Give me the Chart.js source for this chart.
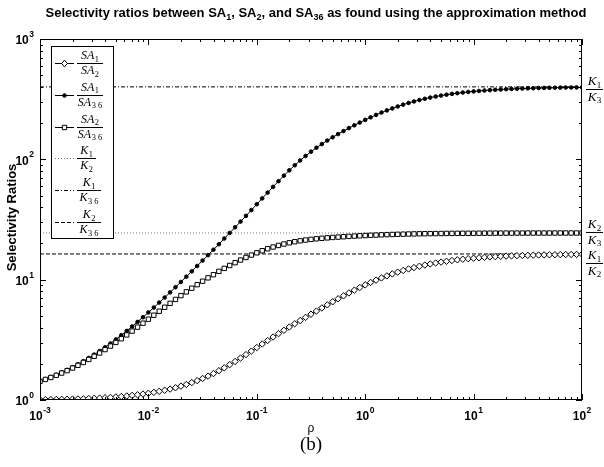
<!DOCTYPE html>
<html>
<head>
<meta charset="utf-8">
<script src="https://cdn.jsdelivr.net/npm/chart.js@4.4.0/dist/chart.umd.min.js"></script>
<style>
html, body { margin: 0; padding: 0; background: #fff; }
#wrap { position: relative; width: 604px; height: 467px; }
</style>
</head>
<body>
<div id="wrap"><canvas id="chart" width="604" height="467"></canvas></div>
<script>
"use strict";

// rho, log spaced, 20 points per decade
const rho = [
	0.001, 0.001122, 0.001259, 0.001413, 0.001585, 0.001778, 0.001995, 0.002239, 0.002512, 0.002818,
	0.003162, 0.003548, 0.003981, 0.004467, 0.005012, 0.005623, 0.00631, 0.007079, 0.007943, 0.008913,
	0.01, 0.01122, 0.01259, 0.01413, 0.01585, 0.01778, 0.01995, 0.02239, 0.02512, 0.02818,
	0.03162, 0.03548, 0.03981, 0.04467, 0.05012, 0.05623, 0.0631, 0.07079, 0.07943, 0.08913,
	0.1, 0.1122, 0.1259, 0.1413, 0.1585, 0.1778, 0.1995, 0.2239, 0.2512, 0.2818,
	0.3162, 0.3548, 0.3981, 0.4467, 0.5012, 0.5623, 0.631, 0.7079, 0.7943, 0.8913,
	1, 1.122, 1.259, 1.413, 1.585, 1.778, 1.995, 2.239, 2.512, 2.818,
	3.162, 3.548, 3.981, 4.467, 5.012, 5.623, 6.31, 7.079, 7.943, 8.913,
	10, 11.22, 12.59, 14.13, 15.85, 17.78, 19.95, 22.39, 25.12, 28.18,
	31.62, 35.48, 39.81, 44.67, 50.12, 56.23, 63.1, 70.79, 79.43, 89.13,
	100
];

const ratioSA1SA2 = [
	1.006, 1.007, 1.008, 1.010, 1.012, 1.014, 1.017, 1.020, 1.023, 1.028,
	1.032, 1.038, 1.044, 1.051, 1.060, 1.069, 1.080, 1.092, 1.105, 1.121,
	1.138, 1.158, 1.180, 1.205, 1.233, 1.264, 1.304, 1.346, 1.394, 1.448,
	1.509, 1.580, 1.659, 1.750, 1.851, 1.965, 2.091, 2.231, 2.384, 2.550,
	2.729, 2.920, 3.122, 3.337, 3.561, 3.796, 4.043, 4.303, 4.575, 4.861,
	5.164, 5.483, 5.820, 6.176, 6.547, 6.936, 7.340, 7.756, 8.181, 8.614,
	9.049, 9.482, 9.909, 10.34, 10.75, 11.16, 11.55, 11.92, 12.28, 12.61,
	12.93, 13.23, 13.50, 13.76, 14.00, 14.22, 14.43, 14.62, 14.79, 14.94,
	15.08, 15.21, 15.33, 15.44, 15.53, 15.62, 15.70, 15.77, 15.83, 15.89,
	15.94, 15.98, 16.02, 16.06, 16.09, 16.12, 16.15, 16.17, 16.19, 16.21,
	16.23
];

const ratioSA1SA36 = [
	1.438, 1.492, 1.552, 1.619, 1.695, 1.779, 1.874, 1.980, 2.100, 2.233,
	2.383, 2.551, 2.740, 2.951, 3.188, 3.453, 3.750, 4.083, 4.456, 4.874,
	5.341, 5.865, 6.451, 7.107, 7.837, 8.654, 9.568, 10.59, 11.73, 13.00,
	14.41, 15.99, 17.74, 19.69, 21.97, 24.45, 27.24, 30.37, 33.89, 37.87,
	42.32, 47.35, 52.91, 59.10, 65.84, 73.16, 81.03, 89.27, 97.87, 106.7,
	115.8, 124.8, 133.9, 143.2, 152.5, 162.1, 171.7, 181.7, 191.8, 202.1,
	212.7, 223.3, 234.0, 244.7, 255.1, 265.0, 275.1, 284.8, 294.0, 302.7,
	310.9, 318.6, 325.8, 332.5, 338.7, 344.5, 349.8, 354.6, 359.0, 363.1,
	366.8, 370.1, 373.1, 375.9, 378.4, 380.6, 382.6, 384.5, 386.1, 387.5,
	388.9, 390.0, 391.1, 392.0, 392.9, 393.7, 394.3, 395.0, 395.5, 396.0,
	396.4
];

const ratioSA2SA36 = [
	1.430, 1.482, 1.539, 1.603, 1.675, 1.754, 1.843, 1.942, 2.052, 2.173,
	2.309, 2.458, 2.624, 2.807, 3.009, 3.230, 3.474, 3.740, 4.031, 4.348,
	4.693, 5.065, 5.467, 5.899, 6.358, 6.848, 7.368, 7.917, 8.491, 9.089,
	9.709, 10.35, 11.00, 11.72, 12.41, 13.12, 13.84, 14.56, 15.29, 16.01,
	16.71, 17.40, 18.06, 18.68, 19.25, 19.78, 20.25, 20.67, 21.03, 21.35,
	21.62, 21.86, 22.07, 22.25, 22.43, 22.59, 22.74, 22.89, 23.02, 23.15,
	23.27, 23.38, 23.48, 23.58, 23.67, 23.75, 23.83, 23.89, 23.95, 24.00,
	24.05, 24.09, 24.13, 24.16, 24.19, 24.22, 24.24, 24.26, 24.28, 24.30,
	24.31, 24.33, 24.34, 24.35, 24.36, 24.37, 24.38, 24.38, 24.39, 24.39,
	24.40, 24.40, 24.41, 24.41, 24.41, 24.42, 24.42, 24.42, 24.42, 24.42,
	24.43
];

// constant ratios (horizontal lines)
const kDotted = 24.45;
const kDashDot = 400;
const kDashed = 16.36;

const xTickValues = [0.001, 0.01, 0.1, 1, 10, 100];
const xTickExponents = ['-3', '-2', '-1', '0', '1', '2'];
const yTickValues = [1, 10, 100, 1000];
const yTickExponents = ['0', '1', '2', '3'];

const titleParts = [
	['Selectivity ratios between SA', false], ['1', true],
	[', SA', false], ['2', true],
	[', and SA', false], ['36', true],
	[' as found using the approximation method', false]
];

function points(ys) {
	return rho.map(function(r, i) { return {x: r, y: ys[i]}; });
}

function flat(v) {
	return [{x: 0.001, y: v}, {x: 100, y: v}];
}

const SANS = "'Liberation Sans', Arial, sans-serif";
const SERIF = "'Liberation Serif', 'Times New Roman', serif";

function drawMarker(ctx, style, x, y) {
	ctx.save();
	ctx.lineWidth = 1;
	ctx.strokeStyle = '#000';
	ctx.beginPath();
	if (style === 'diamond') {
		ctx.moveTo(x, y - 3.4); ctx.lineTo(x + 2.8, y); ctx.lineTo(x, y + 3.4); ctx.lineTo(x - 2.8, y); ctx.closePath();
		ctx.fillStyle = '#fff';
	} else if (style === 'dot') {
		ctx.arc(x, y, 1.8, 0, Math.PI * 2);
		ctx.fillStyle = '#000';
	} else {
		ctx.rect(x - 2.2, y - 2.2, 4.4, 4.4);
		ctx.fillStyle = '#fff';
	}
	ctx.fill();
	ctx.stroke();
	ctx.restore();
}

function mathWidth(ctx, base, sub, size) {
	ctx.font = 'italic ' + size + 'px ' + SERIF;
	var w = ctx.measureText(base).width;
	ctx.font = (size * 0.7) + 'px ' + SERIF;
	return w + 0.5 + ctx.measureText(sub).width;
}

function drawMath(ctx, base, sub, cx, baseline, size) {
	var x = cx - mathWidth(ctx, base, sub, size) / 2;
	ctx.textAlign = 'left';
	ctx.textBaseline = 'alphabetic';
	ctx.font = 'italic ' + size + 'px ' + SERIF;
	ctx.fillText(base, x, baseline);
	x += ctx.measureText(base).width + 0.5;
	ctx.font = (size * 0.7) + 'px ' + SERIF;
	ctx.fillText(sub, x, baseline + size * 0.21);
}

function drawFrac(ctx, num, den, xl, xr, ybar, size) {
	var cx = (xl + xr) / 2;
	drawMath(ctx, num[0], num[1], cx, ybar - 4, size);
	ctx.beginPath();
	ctx.moveTo(xl, Math.round(ybar) + 0.5);
	ctx.lineTo(xr, Math.round(ybar) + 0.5);
	ctx.lineWidth = 1;
	ctx.strokeStyle = '#000';
	ctx.stroke();
	drawMath(ctx, den[0], den[1], cx, ybar + 2 + size * 0.75, size);
}

function drawPow10(ctx, e, x, y, align) {
	ctx.font = 'bold 12px ' + SANS;
	var wb = ctx.measureText('10').width;
	ctx.font = 'bold 8.5px ' + SANS;
	var we = ctx.measureText(e).width;
	var w = wb + we + 0.5;
	var x0 = align === 'right' ? x - w : x - w / 2;
	ctx.textAlign = 'left';
	ctx.textBaseline = 'middle';
	ctx.font = 'bold 12px ' + SANS;
	ctx.fillText('10', x0, y);
	ctx.font = 'bold 8.5px ' + SANS;
	ctx.fillText(e, x0 + wb + 0.5, y - 6.5);
}

const legendEntries = [
	{marker: 'diamond', dash: [], color: '#000', num: ['SA', '1'], den: ['SA', '2'], w: 26},
	{marker: 'dot', dash: [], color: '#000', num: ['SA', '1'], den: ['SA', '3 6'], w: 26},
	{marker: 'square', dash: [], color: '#000', num: ['SA', '2'], den: ['SA', '3 6'], w: 26},
	{marker: null, dash: [1, 2], color: '#777', num: ['K', '1'], den: ['K', '2'], w: 19},
	{marker: null, dash: [4, 2, 1, 2], color: '#000', num: ['K', '1'], den: ['K', '3 6'], w: 24},
	{marker: null, dash: [4, 2], color: '#000', num: ['K', '2'], den: ['K', '3 6'], w: 24}
];

const decorPlugin = {
	id: 'decor',
	beforeDraw: function(chart) {
		const ctx = chart.ctx;
		ctx.save();
		ctx.fillStyle = '#fff';
		ctx.fillRect(0, 0, chart.width, chart.height);
		ctx.restore();
	},
	afterDatasetsDraw: function(chart) {
		const ctx = chart.ctx;
		const a = chart.chartArea;
		const xs = chart.scales.x;
		const ys = chart.scales.y;
		ctx.save();
		ctx.fillStyle = '#000';
		ctx.strokeStyle = '#000';
		ctx.lineWidth = 1;

		// frame
		ctx.strokeRect(a.left + 0.5, a.top + 0.5, a.right - a.left - 1, a.bottom - a.top - 1);

		// inward ticks on all four sides
		ctx.beginPath();
		var d, m, v, p, len;
		for (d = -3; d <= 2; d++) {
			for (m = 1; m <= 9; m++) {
				v = m * Math.pow(10, d);
				if (v > 100.001) break;
				p = Math.round(xs.getPixelForValue(v)) + 0.5;
				len = m === 1 ? 6 : 3;
				ctx.moveTo(p, a.bottom); ctx.lineTo(p, a.bottom - len);
				ctx.moveTo(p, a.top); ctx.lineTo(p, a.top + len);
			}
		}
		for (d = 0; d <= 3; d++) {
			for (m = 1; m <= 9; m++) {
				v = m * Math.pow(10, d);
				if (v > 1000.001) break;
				p = Math.round(ys.getPixelForValue(v)) + 0.5;
				len = m === 1 ? 6 : 3;
				ctx.moveTo(a.left, p); ctx.lineTo(a.left + len, p);
				ctx.moveTo(a.right, p); ctx.lineTo(a.right - len, p);
			}
		}
		ctx.stroke();

		// tick labels
		xTickValues.forEach(function(val, i) {
			drawPow10(ctx, xTickExponents[i], xs.getPixelForValue(val), 417, 'center');
		});
		yTickValues.forEach(function(val, i) {
			drawPow10(ctx, yTickExponents[i], 34, ys.getPixelForValue(val) + 2, 'right');
		});

		// axis titles
		ctx.textAlign = 'center';
		ctx.textBaseline = 'middle';
		ctx.font = '12px ' + SANS;
		ctx.fillText('\u03c1', (a.left + a.right) / 2, 429);
		ctx.font = '19px ' + SERIF;
		ctx.fillText('(b)', (a.left + a.right) / 2, 445);
		ctx.save();
		ctx.translate(12, (a.top + a.bottom) / 2 - 2);
		ctx.rotate(-Math.PI / 2);
		ctx.font = 'bold 13px ' + SANS;
		ctx.fillText('Selectivity Ratios', 0, 0);
		ctx.restore();

		// title with subscripts
		var tw = 0;
		titleParts.forEach(function(part) {
			ctx.font = part[1] ? 'bold 9px ' + SANS : 'bold 13px ' + SANS;
			tw += ctx.measureText(part[0]).width;
		});
		var tx = 316 - tw / 2;
		ctx.textAlign = 'left';
		ctx.textBaseline = 'alphabetic';
		titleParts.forEach(function(part) {
			ctx.font = part[1] ? 'bold 9px ' + SANS : 'bold 13px ' + SANS;
			ctx.fillText(part[0], tx, part[1] ? 20 : 17);
			tx += ctx.measureText(part[0]).width;
		});

		// labels at the right of the constant lines
		drawFrac(ctx, ['K', '1'], ['K', '3'], 586, 603, ys.getPixelForValue(kDashDot) + 2, 13);
		drawFrac(ctx, ['K', '2'], ['K', '3'], 586, 603, ys.getPixelForValue(kDotted) - 1, 13);
		drawFrac(ctx, ['K', '1'], ['K', '2'], 586, 603, ys.getPixelForValue(kDashed) + 9, 13);

		// legend
		ctx.fillStyle = '#fff';
		ctx.fillRect(52, 47, 61, 192);
		ctx.strokeStyle = '#000';
		ctx.strokeRect(51.5, 46.5, 62, 192);
		legendEntries.forEach(function(ent, i) {
			var yb = 63 + i * 31.8;
			var yl = Math.round(yb) + 0.5;
			ctx.save();
			ctx.strokeStyle = ent.color;
			ctx.setLineDash(ent.dash);
			ctx.beginPath();
			ctx.moveTo(55, yl);
			ctx.lineTo(74, yl);
			ctx.stroke();
			ctx.restore();
			if (ent.marker) {
				drawMarker(ctx, ent.marker, 64.5, yl);
			}
			ctx.fillStyle = '#000';
			drawFrac(ctx, ent.num, ent.den, 77, 77 + ent.w, yb, 12);
		});
		ctx.restore();
	}
};

const ctx = document.getElementById('chart');

new Chart(ctx, {
	type: 'line',
	data: {
		datasets: [
			{
				label: 'SA1/SA2',
				data: points(ratioSA1SA2),
				borderColor: '#000',
				borderWidth: 1,
				pointStyle: 'rectRot',
				pointRadius: 3.2,
				pointBackgroundColor: '#fff',
				pointBorderColor: '#000',
				pointBorderWidth: 1,
				order: 3,
			},
			{
				label: 'SA1/SA36',
				data: points(ratioSA1SA36),
				borderColor: '#000',
				borderWidth: 1,
				pointStyle: 'circle',
				pointRadius: 1.8,
				pointBackgroundColor: '#000',
				pointBorderColor: '#000',
				pointBorderWidth: 1,
				order: 2,
			},
			{
				label: 'SA2/SA36',
				data: points(ratioSA2SA36),
				borderColor: '#000',
				borderWidth: 1,
				pointStyle: 'rect',
				pointRadius: 3.1,
				pointBackgroundColor: '#fff',
				pointBorderColor: '#000',
				pointBorderWidth: 1,
				order: 1,
			},
			{
				label: 'K1/K2',
				data: flat(kDotted),
				borderColor: '#777',
				borderWidth: 1,
				borderDash: [1, 2],
				pointRadius: 0,
				order: 4,
			},
			{
				label: 'K1/K36',
				data: flat(kDashDot),
				borderColor: '#000',
				borderWidth: 1,
				borderDash: [4, 2, 1, 2],
				pointRadius: 0,
				order: 5,
			},
			{
				label: 'K2/K36',
				data: flat(kDashed),
				borderColor: '#000',
				borderWidth: 1,
				borderDash: [4, 2],
				pointRadius: 0,
				order: 6,
			}
		]
	},
	options: {
		responsive: false,
		animation: false,
		devicePixelRatio: 1,
		layout: {
			padding: {left: 40, right: 22, top: 39, bottom: 67}
		},
		scales: {
			x: {
				type: 'logarithmic',
				min: 0.001,
				max: 100,
				display: false,
			},
			y: {
				type: 'logarithmic',
				min: 1,
				max: 1000,
				display: false,
			}
		},
		plugins: {
			legend: { display: false },
			tooltip: { enabled: false },
			title: { display: false }
		}
	},
	plugins: [decorPlugin]
});
</script>
</body>
</html>
